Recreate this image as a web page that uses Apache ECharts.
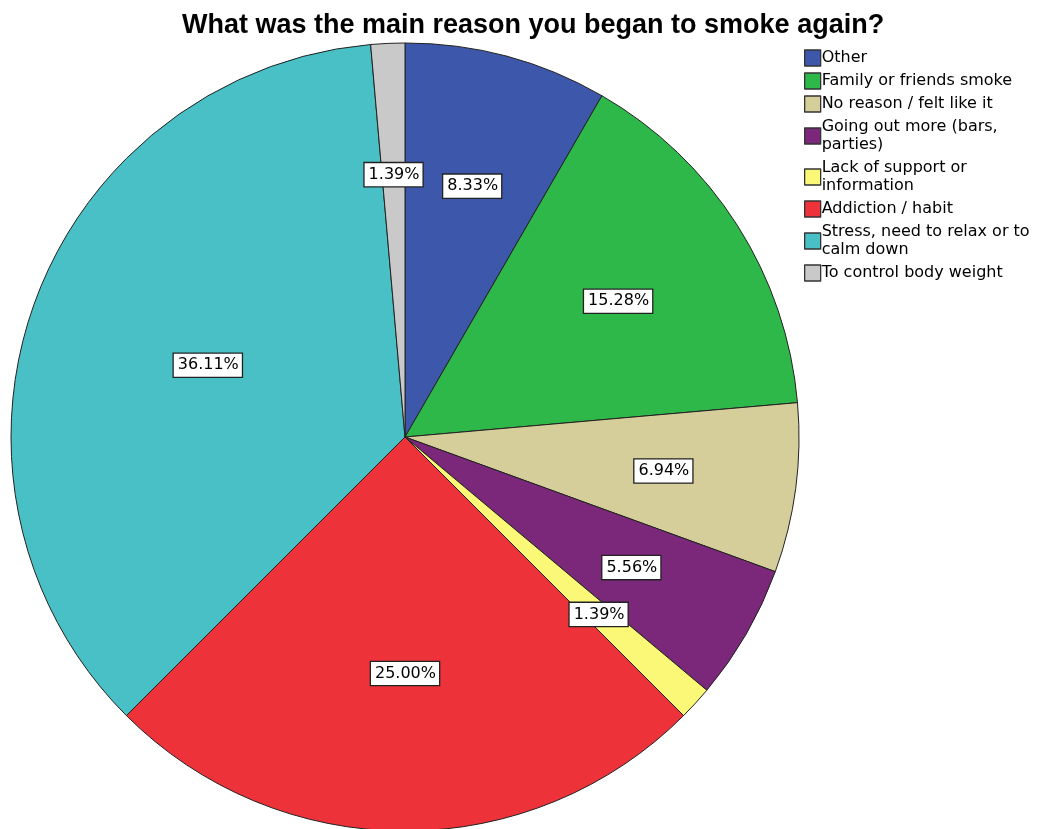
<!DOCTYPE html>
<html>
<head>
<meta charset="utf-8">
<script src="https://cdn.jsdelivr.net/npm/echarts@6/dist/echarts.min.js"></script>
<style>
  html, body { margin: 0; padding: 0; background: #fff; }
  #chart { width: 1042px; height: 829px; }
</style>
</head>
<body>
<div id="chart"></div>
<script>
// Reasons for starting to smoke again, share of respondents (%)
const categories = [
  'Other',
  'Family or friends smoke',
  'No reason / felt like it',
  'Going out more (bars,\nparties)',
  'Lack of support or\ninformation',
  'Addiction / habit',
  'Stress, need to relax or to\ncalm down',
  'To control body weight'
];
const values = [8.33, 15.28, 6.94, 5.56, 1.39, 25.00, 36.11, 1.39];
const colors = ['#3d57ab', '#2fb84a', '#d5cd9a', '#7b287b', '#fbf877', '#ee3239', '#48c0c5', '#c9c9c9'];

const titleFont = 'Arial, "Liberation Sans", sans-serif';
const textFont = '"DejaVu Sans", Verdana, sans-serif';
const center = [405, 437];
const R = 394;
const START = 90; // first slice begins at 12 o'clock, going clockwise

// Each percentage label sits on the centroid of its own sector.
const total = values.reduce((a, b) => a + b, 0);
const labelAnchors = (() => {
  let acc = 0;
  return values.map(v => {
    const half = (v / total) * Math.PI;             // half of the sector angle
    const mid = (acc / total) * 2 * Math.PI + half; // clockwise from top
    acc += v;
    const r = (2 * R * Math.sin(half)) / (3 * half);
    return [center[0] + r * Math.sin(mid), center[1] - r * Math.cos(mid)];
  });
})();

const chart = echarts.init(document.getElementById('chart'), null, { renderer: 'canvas' });
chart.setOption({
  animation: false,
  backgroundColor: '#ffffff',
  title: {
    text: 'What was the main reason you began to smoke again?',
    left: 177,
    top: 7,
    textStyle: { fontFamily: titleFont, fontWeight: 'bold', fontSize: 27, color: '#000' }
  },
  legend: {
    orient: 'vertical',
    left: 799,
    top: 44,
    itemWidth: 16,
    itemHeight: 16,
    itemGap: 5,
    icon: 'rect',
    data: categories,
    itemStyle: { borderColor: '#333', borderWidth: 1.3 },
    textStyle: { fontFamily: textFont, fontSize: 16, color: '#000', lineHeight: 18, padding: [0, 0, 0, -4] }
  },
  series: [
    {
      name: 'reasons',
      type: 'pie',
      center: center,
      radius: [0, R],
      startAngle: START,
      clockwise: true,
      avoidLabelOverlap: false,
      labelLine: { show: false },
      emphasis: { disabled: true },
      itemStyle: { borderColor: '#222', borderWidth: 1 },
      label: {
        show: true,
        position: 'inside',
        formatter: p => p.value.toFixed(2) + '%',
        fontFamily: textFont,
        fontSize: 16,
        lineHeight: 17,
        color: '#000',
        backgroundColor: '#fff',
        borderColor: '#222',
        borderWidth: 1.3,
        padding: [3, 3, 3, 4]
      },
      labelLayout: p => ({
        x: labelAnchors[p.dataIndex][0],
        y: labelAnchors[p.dataIndex][1],
        align: 'center',
        verticalAlign: 'middle'
      }),
      data: categories.map((name, i) => ({
        name, value: values[i], itemStyle: { color: colors[i] }
      }))
    }
  ]
});
</script>
</body>
</html>
